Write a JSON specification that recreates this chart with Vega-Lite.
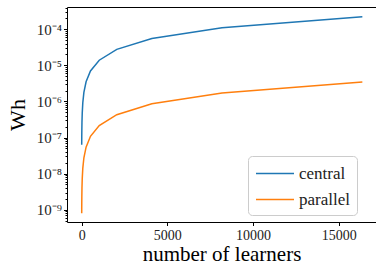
{
  "$schema": "https://vega.github.io/schema/vega-lite/v6.json",
  "width": 309,
  "height": 215,
  "autosize": "none",
  "padding": {"left": 67, "top": 7, "right": 0, "bottom": 43},
  "config": {
    "font": "Liberation Serif",
    "view": {"stroke": null},
    "axis": {
      "grid": false,
      "domainColor": "black",
      "domainWidth": 1,
      "tickColor": "black",
      "tickWidth": 1,
      "labelColor": "#222222",
      "titleColor": "black",
      "labelFont": "Liberation Serif",
      "titleFont": "Liberation Serif",
      "titleFontWeight": "normal"
    }
  },
  "data": {
    "values": [
      {"n": 1, "Wh": 6.3e-8, "series": "central"},
      {"n": 2, "Wh": 7.7e-8, "series": "central"},
      {"n": 4, "Wh": 1.04e-7, "series": "central"},
      {"n": 8, "Wh": 1.58e-7, "series": "central"},
      {"n": 16, "Wh": 2.66e-7, "series": "central"},
      {"n": 32, "Wh": 4.8e-7, "series": "central"},
      {"n": 64, "Wh": 9.1e-7, "series": "central"},
      {"n": 128, "Wh": 1.78e-6, "series": "central"},
      {"n": 256, "Wh": 3.5e-6, "series": "central"},
      {"n": 512, "Wh": 7.0e-6, "series": "central"},
      {"n": 1024, "Wh": 1.39e-5, "series": "central"},
      {"n": 2048, "Wh": 2.77e-5, "series": "central"},
      {"n": 4096, "Wh": 5.53e-5, "series": "central"},
      {"n": 8192, "Wh": 1.1e-4, "series": "central"},
      {"n": 16384, "Wh": 2.21e-4, "series": "central"},
      {"n": 1, "Wh": 8.0e-10, "series": "parallel"},
      {"n": 2, "Wh": 1.0e-9, "series": "parallel"},
      {"n": 4, "Wh": 1.45e-9, "series": "parallel"},
      {"n": 8, "Wh": 2.3e-9, "series": "parallel"},
      {"n": 16, "Wh": 4.0e-9, "series": "parallel"},
      {"n": 32, "Wh": 7.3e-9, "series": "parallel"},
      {"n": 64, "Wh": 1.4e-8, "series": "parallel"},
      {"n": 128, "Wh": 2.75e-8, "series": "parallel"},
      {"n": 256, "Wh": 5.4e-8, "series": "parallel"},
      {"n": 512, "Wh": 1.08e-7, "series": "parallel"},
      {"n": 1024, "Wh": 2.15e-7, "series": "parallel"},
      {"n": 2048, "Wh": 4.3e-7, "series": "parallel"},
      {"n": 4096, "Wh": 8.6e-7, "series": "parallel"},
      {"n": 8192, "Wh": 1.72e-6, "series": "parallel"},
      {"n": 16384, "Wh": 3.44e-6, "series": "parallel"}
    ]
  },
  "layer": [
    {
      "mark": {"type": "line", "strokeWidth": 1.5, "clip": true},
      "encoding": {
        "x": {
          "field": "n",
          "type": "quantitative",
          "scale": {"domain": [-858, 17181], "nice": false, "zero": false},
          "axis": {
            "values": [0, 5000, 10000, 15000],
            "format": "d",
            "tickSize": 3.5,
            "labelFontSize": 14,
            "labelPadding": 3,
            "title": "number of learners",
            "titleFontSize": 21,
            "titlePadding": 1
          }
        },
        "y": {
          "field": "Wh",
          "type": "quantitative",
          "scale": {"type": "log", "domain": [4.57e-10, 4.14e-4], "nice": false},
          "axis": {
            "values": [5e-10, 6e-10, 7e-10, 8e-10, 9e-10,
              1e-9, 2e-9, 3e-9, 4e-9, 5e-9, 6e-9, 7e-9, 8e-9, 9e-9,
              1e-8, 2e-8, 3e-8, 4e-8, 5e-8, 6e-8, 7e-8, 8e-8, 9e-8,
              1e-7, 2e-7, 3e-7, 4e-7, 5e-7, 6e-7, 7e-7, 8e-7, 9e-7,
              1e-6, 2e-6, 3e-6, 4e-6, 5e-6, 6e-6, 7e-6, 8e-6, 9e-6,
              1e-5, 2e-5, 3e-5, 4e-5, 5e-5, 6e-5, 7e-5, 8e-5, 9e-5,
              1e-4, 2e-4, 3e-4, 4e-4],
            "tickSize": {
              "condition": {"test": "abs(log(datum.value)/LN10 - round(log(datum.value)/LN10)) < 0.001", "value": 3.5},
              "value": 2
            },
            "labelExpr": "abs(log(datum.value)/LN10 - round(log(datum.value)/LN10)) < 0.001 ? '10⁻' + ['⁰','¹','²','³','⁴','⁵','⁶','⁷','⁸','⁹'][-round(log(datum.value)/LN10)] : ''",
            "labelOverlap": false,
            "labelFontSize": 15,
            "labelPadding": 2,
            "title": "Wh",
            "titleFontSize": 22,
            "titlePadding": 7
          }
        },
        "color": {
          "field": "series",
          "type": "nominal",
          "scale": {"domain": ["central", "parallel"], "range": ["#1f77b4", "#ff7f0e"]},
          "legend": {
            "title": null,
            "orient": "none",
            "legendX": 181,
            "legendY": 149,
            "padding": 7,
            "symbolType": "M-1,0H3",
            "symbolSize": 361,
            "symbolStrokeWidth": 1.5,
            "labelFontSize": 17,
            "labelFont": "Liberation Serif",
            "labelColor": "#222222",
            "labelOffset": 23,
            "rowPadding": 7,
            "strokeColor": "#cccccc",
            "fillColor": "white",
            "cornerRadius": 4
          }
        }
      }
    },
    {
      "mark": {"type": "line", "opacity": 0},
      "encoding": {
        "x": {
          "field": "n",
          "type": "quantitative",
          "axis": {"orient": "top", "labels": false, "ticks": false, "title": null, "domain": true}
        },
        "y": {"field": "Wh", "type": "quantitative"}
      }
    }
  ],
  "resolve": {"axis": {"x": "independent"}}
}
